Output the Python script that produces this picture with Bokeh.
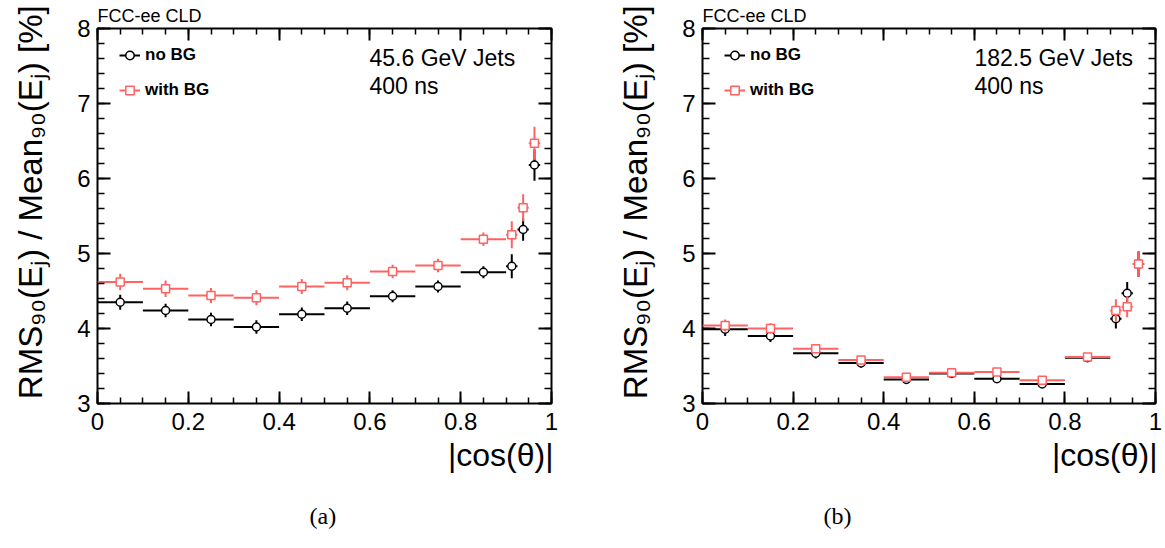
import numpy as np
from bokeh.plotting import figure
from bokeh.models import (ColumnDataSource, FixedTicker, LinearAxis, Label,
                          Legend, LegendItem, Range1d, Title)
from bokeh.layouts import row
from bokeh.embed import file_html
from bokeh.resources import INLINE

# ---------------- data ----------------
cos_centre = [0.05, 0.15, 0.25, 0.35, 0.45, 0.55, 0.65, 0.75, 0.85, 0.9125, 0.9375, 0.9625]
cos_halfwidth = [0.05, 0.05, 0.05, 0.05, 0.05, 0.05, 0.05, 0.05, 0.05, 0.0125, 0.0125, 0.0125]

# (a) 45.6 GeV jets
a_nobg = [4.35, 4.24, 4.12, 4.02, 4.19, 4.27, 4.43, 4.56, 4.75, 4.83, 5.32, 6.18]
a_nobg_err = [0.10, 0.09, 0.09, 0.09, 0.09, 0.09, 0.08, 0.08, 0.08, 0.16, 0.15, 0.21]
a_bg = [4.62, 4.53, 4.44, 4.41, 4.56, 4.61, 4.76, 4.84, 5.19, 5.25, 5.61, 6.47]
a_bg_err = [0.11, 0.11, 0.10, 0.10, 0.10, 0.10, 0.09, 0.09, 0.09, 0.18, 0.18, 0.22]

# (b) 182.5 GeV jets
b_nobg = [3.99, 3.90, 3.67, 3.54, 3.32, 3.40, 3.33, 3.26, 3.61, 4.13, 4.47, 4.86]
b_nobg_err = [0.09, 0.08, 0.07, 0.06, 0.05, 0.05, 0.05, 0.05, 0.04, 0.13, 0.15, 0.17]
b_bg = [4.04, 4.00, 3.73, 3.58, 3.35, 3.41, 3.42, 3.31, 3.62, 4.24, 4.29, 4.86]
b_bg_err = [0.08, 0.07, 0.06, 0.05, 0.05, 0.05, 0.05, 0.05, 0.04, 0.15, 0.14, 0.17]

series_labels = ["no BG", "with BG"]
energy_labels = ["45.6 GeV Jets", "182.5 GeV Jets"]
time_label = "400 ns"
panel_tags = ["(a)", "(b)"]
header = "FCC-ee CLD"
x_title = "|cos(θ)|"
y_title = "RMS₉₀(Eⱼ) / Mean₉₀(Eⱼ) [%]"

x_ticks = [0, 0.2, 0.4, 0.6, 0.8, 1]
x_tick_labels = ["0", "0.2", "0.4", "0.6", "0.8", "1"]
y_ticks = [3, 4, 5, 6, 7, 8]
y_tick_labels = ["3", "4", "5", "6", "7", "8"]

# ---------------- style ----------------
FONT = "Liberation Sans"
BLACK = "#000000"
RED = "#ff6262"
FRAME_H = 375
NBSP = "\u00a0"


def source(vals, errs):
    return ColumnDataSource(dict(
        x=cos_centre,
        xlo=[c - h for c, h in zip(cos_centre, cos_halfwidth)],
        xhi=[c + h for c, h in zip(cos_centre, cos_halfwidth)],
        y=vals,
        ylo=[v - e for v, e in zip(vals, errs)],
        yhi=[v + e for v, e in zip(vals, errs)],
    ))


def style_axis(ax, ticker, overrides, show_labels, tick_major, tick_minor):
    ax.ticker = ticker
    ax.axis_line_color = None
    ax.major_tick_in = tick_major
    ax.major_tick_out = 0
    ax.minor_tick_in = tick_minor
    ax.minor_tick_out = 0
    ax.major_tick_line_color = BLACK
    ax.minor_tick_line_color = BLACK
    ax.major_tick_line_width = 2
    ax.minor_tick_line_width = 1.5
    if show_labels:
        ax.major_label_overrides = overrides
        ax.major_label_text_font = FONT
        ax.major_label_text_font_size = "24px"
        ax.major_label_text_color = BLACK
    else:
        ax.major_label_text_font_size = "0px"
        ax.major_label_text_color = None
        ax.major_label_standoff = 0


def make_panel(nobg, nobg_err, bg, bg_err, energy, tag, frame_w, bl, br, tag_offset):
    p = figure(frame_width=frame_w, frame_height=FRAME_H,
               x_range=Range1d(0, 1), y_range=Range1d(3, 8),
               min_border_left=bl, min_border_right=br,
               min_border_top=28, min_border_bottom=140,
               toolbar_location=None, output_backend="svg",
               background_fill_color="white", border_fill_color="white")
    p.grid.visible = False
    p.outline_line_color = BLACK
    p.outline_line_width = 2

    xt = FixedTicker(ticks=x_ticks, minor_ticks=[round(v, 3) for v in np.arange(0, 1.0001, 0.05)])
    yt = FixedTicker(ticks=y_ticks, minor_ticks=[round(v, 3) for v in np.arange(3, 8.0001, 0.2)])
    xo = dict(zip(x_ticks, x_tick_labels))
    yo = dict(zip(y_ticks, y_tick_labels))

    style_axis(p.xaxis[0], xt, xo, True, 12, 6)
    p.xaxis[0].major_label_standoff = 9
    ya = p.yaxis[0]
    style_axis(ya, yt, yo, True, 13, 7)
    ya.major_label_standoff = 7
    # leading no-break spaces lift the centred title a little, as in the reference
    ya.axis_label = NBSP * 3 + y_title
    ya.axis_label_text_font = FONT
    ya.axis_label_text_font_size = "33px"
    ya.axis_label_text_font_style = "normal"
    ya.axis_label_text_color = BLACK
    ya.axis_label_standoff = 25

    top = LinearAxis()
    style_axis(top, xt, xo, False, 12, 6)
    p.add_layout(top, "above")
    right = LinearAxis()
    style_axis(right, yt, yo, False, 13, 7)
    p.add_layout(right, "right")

    s0 = source(nobg, nobg_err)
    s1 = source(bg, bg_err)

    h0 = p.segment("xlo", "y", "xhi", "y", source=s0, line_color=BLACK, line_width=2)
    p.segment("x", "ylo", "x", "yhi", source=s0, line_color=BLACK, line_width=2)
    m0 = p.scatter("x", "y", source=s0, marker="circle", size=8, fill_color="white",
                   line_color=BLACK, line_width=1.5)
    h1 = p.segment("xlo", "y", "xhi", "y", source=s1, line_color=RED, line_width=2)
    p.segment("x", "ylo", "x", "yhi", source=s1, line_color=RED, line_width=2)
    m1 = p.scatter("x", "y", source=s1, marker="square", size=8, fill_color="white",
                   line_color=RED, line_width=1.5)

    legend = Legend(items=[LegendItem(label=series_labels[0], renderers=[h0, m0]),
                           LegendItem(label=series_labels[1], renderers=[h1, m1])],
                    location=(22, 296), padding=0, margin=0, spacing=1,
                    glyph_width=21, glyph_height=34, label_height=34, label_standoff=5,
                    label_text_font=FONT, label_text_font_size="17px",
                    label_text_font_style="bold", label_text_color=BLACK,
                    background_fill_alpha=0, border_line_color=None)
    p.add_layout(legend, "center")

    for text, yy in [(energy, 346), (time_label, 318)]:
        p.add_layout(Label(x=272, y=yy, x_units="screen", y_units="screen", text=text,
                           text_font=FONT, text_font_size="23px", text_color=BLACK,
                           text_align="left", text_baseline="alphabetic"))

    # header above the frame
    p.title.text = header
    p.title.align = "left"
    p.title.offset = 0
    p.title.standoff = 6
    p.title.text_font = FONT
    p.title.text_font_size = "18px"
    p.title.text_font_style = "normal"
    p.title.text_color = BLACK

    # x title, right aligned, and sub-figure tag
    p.add_layout(Title(text=x_title, align="right", offset=-2, standoff=4,
                       text_font=FONT, text_font_size="32px", text_font_style="normal",
                       text_color=BLACK), "below")
    p.add_layout(Title(text=tag, align="left", offset=tag_offset, standoff=53,
                       text_font="Liberation Serif", text_font_size="24px",
                       text_font_style="normal", text_color=BLACK), "below")
    return p


p1 = make_panel(a_nobg, a_nobg_err, a_bg, a_bg_err, energy_labels[0], panel_tags[0],
                454, 97, 62, 212)
p2 = make_panel(b_nobg, b_nobg_err, b_bg, b_bg_err, energy_labels[1], panel_tags[1],
                453, 89, 8, 121)

layout = row(p1, p2)
open("out.html", "w").write(file_html(layout, INLINE))
